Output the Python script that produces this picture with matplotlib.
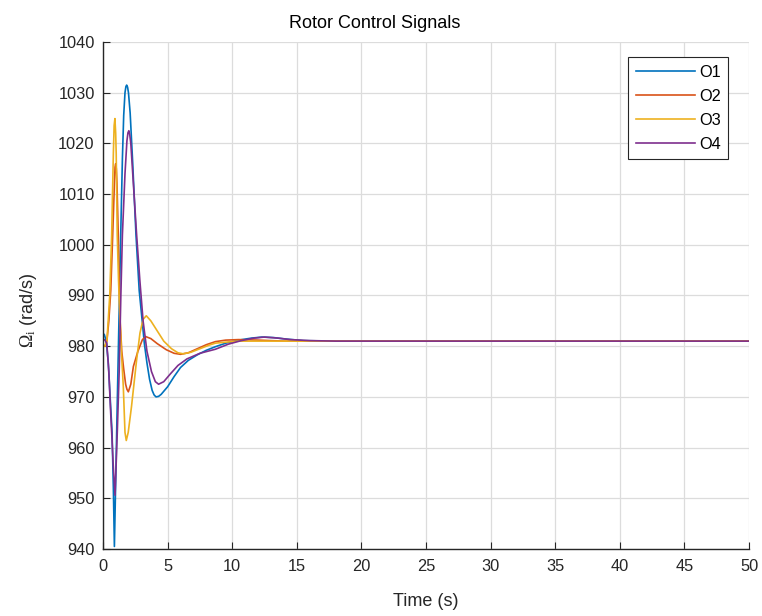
import matplotlib
matplotlib.use("Agg")
import matplotlib.pyplot as plt

plt.rcParams['font.family'] = ['Liberation Sans', 'DejaVu Sans']
plt.rcParams['mathtext.fontset'] = 'custom'
plt.rcParams['mathtext.rm'] = 'Liberation Serif'
plt.rcParams['mathtext.it'] = 'Liberation Serif:italic'

# Rotor speed commands (rad/s) for the four rotors
t_o1 = [0, 0.1, 0.25, 0.4, 0.55, 0.7, 0.8, 0.88, 0.97, 1.06, 1.2, 1.37, 1.5, 1.6,
        1.7, 1.77, 1.83, 1.9, 1.97, 2.1, 2.3, 2.55, 2.8, 3.0, 3.2, 3.4, 3.6, 3.8,
        3.95, 4.1, 4.3, 4.5, 5.0, 5.5, 6.0, 6.6, 7.3, 8.0, 8.7, 9.5, 10.5, 11.5,
        12.3, 13.2, 14.2, 15.5, 18, 25, 35, 50]
o1 = [982.5, 982.3, 981.0, 977.0, 970.0, 963.0, 952.0, 940.5, 952.0, 963.5, 981.0,
      1002.0, 1017.0, 1025.5, 1030.0, 1031.2, 1031.5, 1031.1, 1030.0, 1026.0,
      1016.0, 1002.0, 991.0, 985.8, 980.5, 976.7, 973.5, 971.3, 970.4, 970.0,
      970.1, 970.5, 972.0, 974.0, 975.8, 977.2, 978.3, 979.2, 979.9, 980.6, 981.2,
      981.6, 981.8, 981.7, 981.4, 981.1, 981.0, 981.0, 981.0, 981.0]

t_o2 = [0, 0.15, 0.3, 0.45, 0.6, 0.75, 0.88, 0.93, 0.98, 1.03, 1.08, 1.18, 1.32,
        1.45, 1.6, 1.75, 1.85, 1.96, 2.15, 2.35, 2.7, 3.05, 3.3, 3.7, 4.2, 4.9,
        5.5, 6.0, 6.6, 7.3, 8.0, 8.7, 9.5, 10.5, 12, 14, 20, 30, 50]
o2 = [980.0, 980.0, 981.0, 985.0, 991.0, 1002.0, 1012.0, 1015.3, 1016.0, 1015.0,
      1012.0, 1002.0, 985.2, 979.0, 975.5, 972.5, 971.5, 971.0, 972.5, 976.0,
      979.0, 981.3, 981.9, 981.5, 980.5, 979.3, 978.6, 978.4, 978.7, 979.5, 980.3,
      980.9, 981.2, 981.3, 981.2, 981.0, 981.0, 981.0, 981.0]

t_o3 = [0, 0.15, 0.3, 0.4, 0.52, 0.67, 0.8, 0.86, 0.92, 0.98, 1.02, 1.1, 1.2, 1.3,
        1.42, 1.57, 1.7, 1.8, 1.95, 2.2, 2.6, 2.86, 3.1, 3.35, 3.7, 4.2, 4.7, 5.3,
        5.8, 6.2, 6.8, 7.5, 8.2, 8.7, 9.5, 10.5, 14, 20, 30, 50]
o3 = [980.2, 980.0, 981.0, 985.0, 990.0, 1002.0, 1018.0, 1023.5, 1024.9, 1022.0,
      1018.0, 1002.0, 993.0, 986.0, 979.0, 972.0, 963.0, 961.4, 963.0, 968.0,
      977.3, 982.6, 985.3, 986.0, 985.0, 983.0, 981.0, 979.5, 978.7, 978.5, 978.8,
      979.5, 980.2, 980.6, 980.8, 981.0, 981.0, 981.0, 981.0, 981.0]

t_o4 = [0, 0.15, 0.29, 0.45, 0.57, 0.67, 0.8, 0.93, 1.02, 1.11, 1.25, 1.38, 1.5,
        1.7, 1.85, 1.93, 2.0, 2.07, 2.15, 2.35, 2.6, 2.85, 3.1, 3.4, 3.75, 4.05,
        4.3, 4.7, 5.2, 5.8, 6.5, 7.5, 8.7, 9.7, 10.7, 11.7, 12.5, 13.5, 14.5, 16,
        18, 25, 35, 50]
o4 = [981.4, 981.2, 980.6, 975.0, 968.0, 963.0, 956.0, 950.6, 957.0, 963.5, 975.0,
      990.0, 1002.0, 1014.0, 1020.5, 1022.1, 1022.5, 1021.7, 1020.0, 1012.0,
      1002.0, 993.0, 985.0, 979.0, 975.0, 973.0, 972.5, 973.0, 974.5, 976.2,
      977.5, 978.6, 979.4, 980.4, 981.1, 981.6, 981.8, 981.6, 981.3, 981.1, 981.0,
      981.0, 981.0, 981.0]

series_labels = ['O1', 'O2', 'O3', 'O4']
series_colors = ['#0072BD', '#D95319', '#EDB120', '#7E2F8E']

x_ticks = list(range(0, 51, 5))
y_ticks = list(range(940, 1041, 10))

fig = plt.figure(figsize=(7.62, 6.16), dpi=100)
ax = fig.add_axes([0.1352, 0.1088, 0.8478, 0.823])

for tt, vals, lab, col in zip([t_o1, t_o2, t_o3, t_o4], [o1, o2, o3, o4],
                              series_labels, series_colors):
    ax.plot(tt, vals, color=col, lw=1.2, label=lab)

ax.set_xlim(0, 50)
ax.set_ylim(940, 1040)
ax.set_xticks(x_ticks)
ax.set_yticks(y_ticks)
ax.grid(True, color='#dcdcdc', lw=0.9)
ax.set_axisbelow(True)
for side in ('top', 'right'):
    ax.spines[side].set_visible(False)
for side in ('left', 'bottom'):
    ax.spines[side].set_color('#262626')
    ax.spines[side].set_linewidth(1.0)
ax.tick_params(direction='in', length=5, width=0.8, colors='#262626',
               labelsize=11.8)
ax.tick_params(axis='x', pad=7)
ax.tick_params(axis='y', pad=6)

ax.set_title('Rotor Control Signals', fontsize=13, color='#000000', pad=10,
             x=0.421)
ax.set_xlabel('Time (s)', fontsize=13, color='#262626', labelpad=14)
ax.set_ylabel(r'$\Omega_\mathrm{i}$ (rad/s)', fontsize=13, color='#262626')
ax.yaxis.set_label_coords(-0.099, 0.47)

leg = ax.legend(loc='upper right', bbox_to_anchor=(0.9675, 0.970), fontsize=11.8,
                handlelength=3.6, handletextpad=0.25, labelspacing=0.55,
                borderpad=0.45, fancybox=False, framealpha=1,
                edgecolor='#262626', borderaxespad=0)
leg.get_frame().set_linewidth(0.8)

fig.savefig('out.png', dpi=100)
